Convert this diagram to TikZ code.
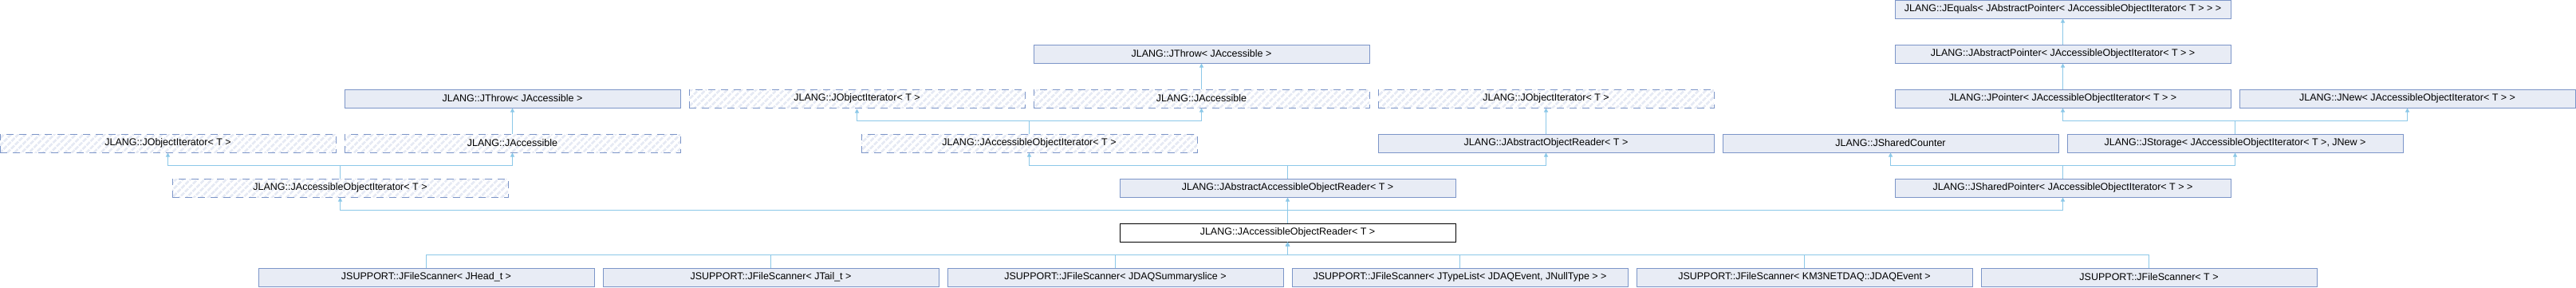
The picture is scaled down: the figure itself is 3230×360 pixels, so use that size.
\documentclass[tikz,border=0pt]{standalone}
\usepackage{fontspec}
\setmainfont{Liberation Sans}
\usetikzlibrary{arrows.meta,patterns.meta}
\definecolor{boxfill}{RGB}{232,236,245}
\definecolor{boxline}{RGB}{124,149,200}
\definecolor{edgecol}{RGB}{140,200,232}
\definecolor{hatchcol}{RGB}{230,234,244}
\tikzset{
  cls/.style={draw=boxline, fill=boxfill, line width=1pt, minimum width=421pt, minimum height=23pt, inner sep=0pt, font=\fontsize{12.5}{14}\selectfont},
  hidden/.style={draw=boxline, line width=1pt, dash pattern=on 9pt off 7pt, pattern={Lines[angle=45,distance=6.4pt,line width=3pt]}, pattern color=hatchcol, minimum width=421pt, minimum height=23pt, inner sep=0pt, font=\fontsize{12.5}{14}\selectfont},
  mainbox/.style={draw=black, fill=white, line width=1pt, minimum width=421pt, minimum height=23pt, inner sep=0pt, font=\fontsize{12.5}{14}\selectfont},
  edge/.style={draw=edgecol, line width=1pt, -{Triangle[length=5pt,width=5pt]}}
}
\begin{document}
\begin{tikzpicture}[x=1pt,y=1pt]
\useasboundingbox (0,0) rectangle (3230,-360);
% row 0
\node[cls] (eq) at (2586.5,-11.5) {JLANG::JEquals< JAbstractPointer< JAccessibleObjectIterator< T > > >};
% row 1
\node[cls] (thr1) at (1506.5,-67.5) {JLANG::JThrow< JAccessible >};
\node[cls] (absp) at (2586.5,-67.5) {JLANG::JAbstractPointer< JAccessibleObjectIterator< T > >};
% row 2
\node[cls] (thr2) at (642.5,-123.5) {JLANG::JThrow< JAccessible >};
\node[hidden] (oi2) at (1074.5,-123.5) {JLANG::JObjectIterator< T >};
\node[hidden] (acc2) at (1506.5,-123.5) {JLANG::JAccessible};
\node[hidden] (oi3) at (1938.5,-123.5) {JLANG::JObjectIterator< T >};
\node[cls] (ptr) at (2586.5,-123.5) {JLANG::JPointer< JAccessibleObjectIterator< T > >};
\node[cls] (new) at (3018.5,-123.5) {JLANG::JNew< JAccessibleObjectIterator< T > >};
% row 3
\node[hidden] (oi1) at (210.5,-179.5) {JLANG::JObjectIterator< T >};
\node[hidden] (acc1) at (642.5,-179.5) {JLANG::JAccessible};
\node[hidden] (aoi2) at (1290.5,-179.5) {JLANG::JAccessibleObjectIterator< T >};
\node[cls] (aor) at (1938.5,-179.5) {JLANG::JAbstractObjectReader< T >};
\node[cls] (cnt) at (2370.5,-179.5) {JLANG::JSharedCounter};
\node[cls] (sto) at (2802.5,-179.5) {JLANG::JStorage< JAccessibleObjectIterator< T >, JNew >};
% row 4
\node[hidden] (aoi1) at (426.5,-235.5) {JLANG::JAccessibleObjectIterator< T >};
\node[cls] (aaor) at (1614.5,-235.5) {JLANG::JAbstractAccessibleObjectReader< T >};
\node[cls] (sp) at (2586.5,-235.5) {JLANG::JSharedPointer< JAccessibleObjectIterator< T > >};
% row 5
\node[mainbox] (main) at (1614.5,-291.5) {JLANG::JAccessibleObjectReader< T >};
% row 6
\node[cls] (s1) at (534.5,-347.5) {JSUPPORT::JFileScanner< JHead\_t >};
\node[cls] (s2) at (966.5,-347.5) {JSUPPORT::JFileScanner< JTail\_t >};
\node[cls] (s3) at (1398.5,-347.5) {JSUPPORT::JFileScanner< JDAQSummaryslice >};
\node[cls] (s4) at (1830.5,-347.5) {JSUPPORT::JFileScanner< JTypeList< JDAQEvent, JNullType > >};
\node[cls] (s5) at (2262.5,-347.5) {JSUPPORT::JFileScanner< KM3NETDAQ::JDAQEvent >};
\node[cls] (s6) at (2694.5,-347.5) {JSUPPORT::JFileScanner< T >};
% edges
\foreach \c in {s1,s2,s3,s4,s5,s6}
  \draw[edge] (\c.north) -- ++(0,16) -| (main.south);
\foreach \p in {aoi1,aaor,sp}
  \draw[edge] (main.north) -- ++(0,16) -| (\p.south);
\foreach \p in {oi1,acc1}
  \draw[edge] (aoi1.north) -- ++(0,16) -| (\p.south);
\foreach \p in {aoi2,aor}
  \draw[edge] (aaor.north) -- ++(0,16) -| (\p.south);
\foreach \p in {cnt,sto}
  \draw[edge] (sp.north) -- ++(0,16) -| (\p.south);
\draw[edge] (acc1.north) -- (thr2.south);
\foreach \p in {oi2,acc2}
  \draw[edge] (aoi2.north) -- ++(0,16) -| (\p.south);
\draw[edge] (aor.north) -- (oi3.south);
\foreach \p in {ptr,new}
  \draw[edge] (sto.north) -- ++(0,16) -| (\p.south);
\draw[edge] (acc2.north) -- (thr1.south);
\draw[edge] (ptr.north) -- (absp.south);
\draw[edge] (absp.north) -- (eq.south);
\end{tikzpicture}
\end{document}
